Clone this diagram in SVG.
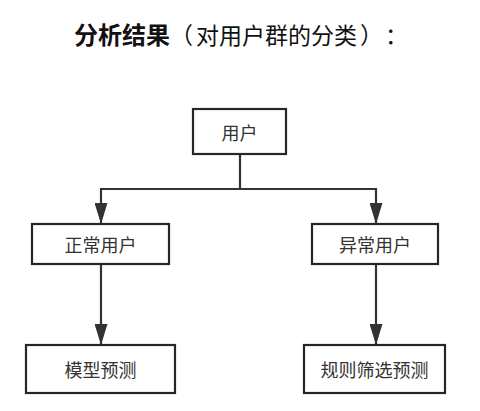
<svg xmlns="http://www.w3.org/2000/svg" width="480" height="411" viewBox="0 0 480 411">
<defs>
<style>
.box{fill:#fff;stroke:#262626;stroke-width:2.2}
.t{font-family:"Noto Sans CJK SC",sans-serif;font-size:18px;fill:#333;text-anchor:middle;dominant-baseline:central}
.c{fill:none;stroke:#333;stroke-width:2.2}
.title{font-family:"Noto Sans CJK SC",sans-serif;font-size:23px;fill:#111}
</style>
<marker id="ah" markerWidth="21" markerHeight="13" refX="21" refY="6.5" orient="auto" markerUnits="userSpaceOnUse" viewBox="0 0 21 13">
<path d="M0,0 L21,6.5 L0,13 Z" fill="#333"/>
</marker>
</defs>
<rect width="480" height="411" fill="#fff"/>
<text class="title" y="44"><tspan x="74" font-weight="bold" font-size="24">分析结果</tspan><tspan x="170">（</tspan><tspan x="196">对用户群的分类</tspan><tspan x="360">）</tspan><tspan x="385">：</tspan></text>
<g id="connectors">
<path class="c" d="M240,154 V189"/>
<path class="c" d="M101,189 H376"/>
<path class="c" d="M101,188 V224" marker-end="url(#ah)"/>
<path class="c" d="M376,188 V224" marker-end="url(#ah)"/>
<path class="c" d="M101,264 V345" marker-end="url(#ah)"/>
<path class="c" d="M376,264 V345" marker-end="url(#ah)"/>
</g>
<g id="user"><rect class="box" x="193" y="109" width="93" height="45"/><text class="t" x="239.5" y="132">用户</text></g>
<g id="normal"><rect class="box" x="32" y="224" width="137" height="40"/><text class="t" x="100.5" y="244">正常用户</text></g>
<g id="abnormal"><rect class="box" x="312" y="224" width="126" height="40"/><text class="t" x="375" y="244">异常用户</text></g>
<g id="model"><rect class="box" x="26" y="345" width="149" height="48"/><text class="t" x="100.5" y="369">模型预测</text></g>
<g id="rule"><rect class="box" x="304" y="345" width="141" height="48"/><text class="t" x="374.5" y="369">规则筛选预测</text></g>
</svg>
